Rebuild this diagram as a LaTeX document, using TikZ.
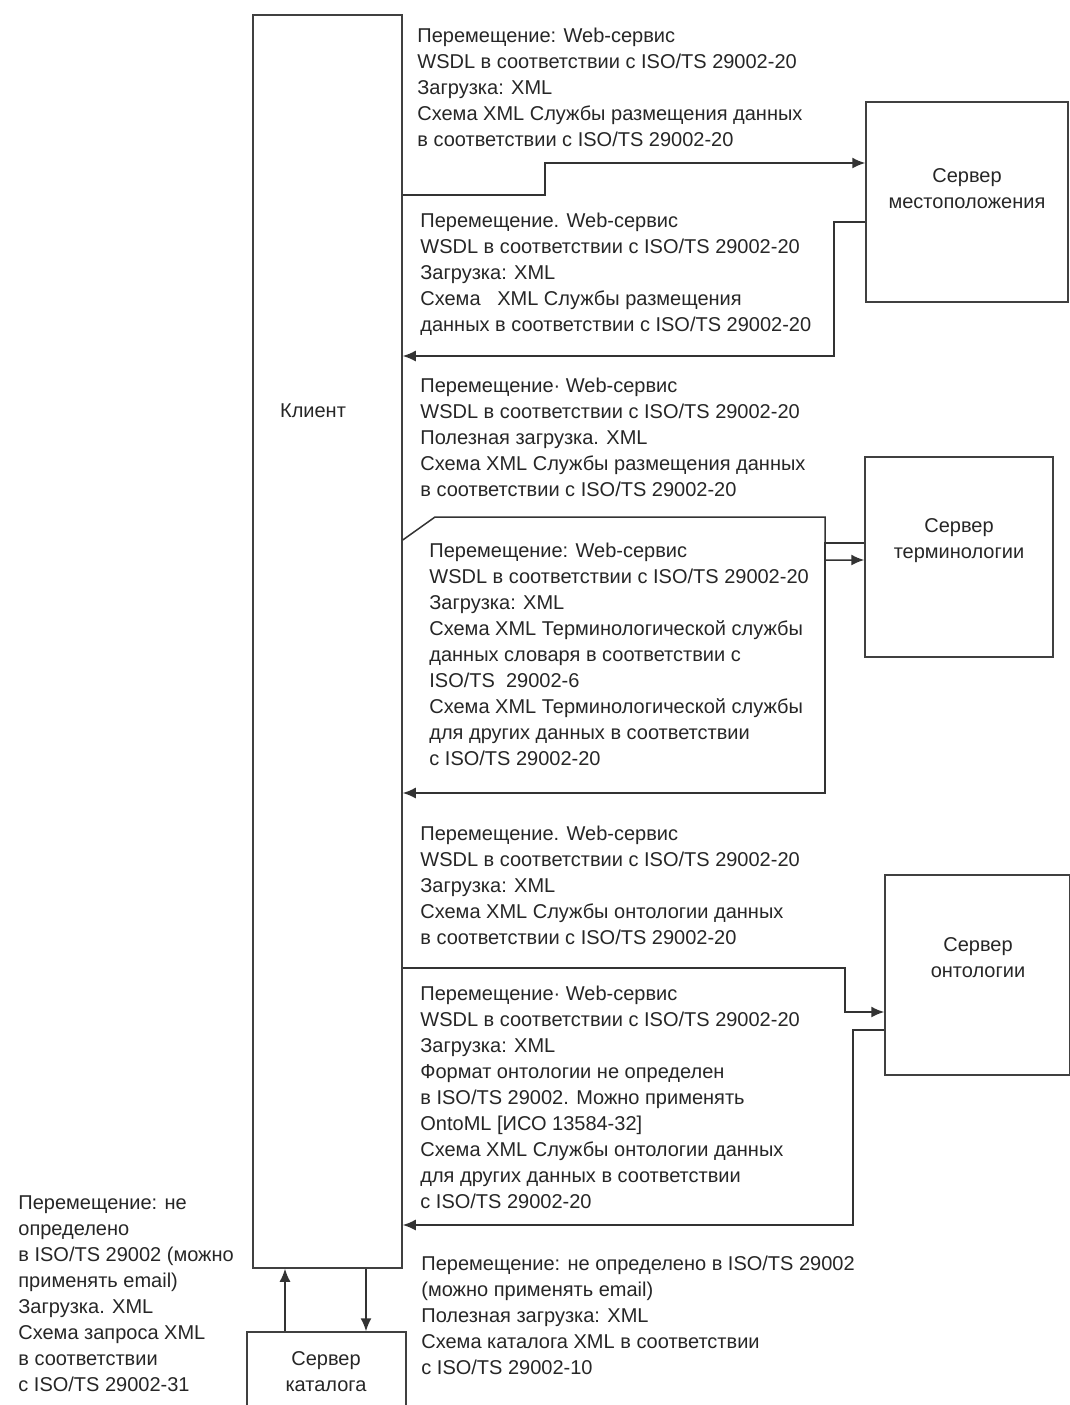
\documentclass[tikz,border=0pt]{standalone}
\usepackage{fontspec}
\setmainfont{Liberation Sans}
\usetikzlibrary{arrows.meta}

\tikzset{
  box/.style={draw=black!75, line width=0.75pt, inner sep=0pt},
  txt/.style={anchor=north west, inner sep=0pt, align=left, text=black!85,
    font=\fontsize{10}{13}\selectfont},
  lbl/.style={inner sep=0pt, align=center, text=black!85,
    font=\fontsize{10}{13}\selectfont},
  conn/.style={draw=black!80, line width=0.75pt, -{Latex[length=6.5pt,width=5.5pt]}},
  plain/.style={draw=black!80, line width=0.75pt}
}

\begin{document}
\begin{tikzpicture}[x=0.5pt,y=0.5pt,yscale=-1,xscale=1]
\path[use as bounding box] (0,0) rectangle (1070,1405);

%Boxes
\node[box, minimum width=74.5pt, minimum height=626.5pt] (client) at (327.5,641.5) {};
\node[box, minimum width=101pt, minimum height=100pt] (loc) at (967,202) {};
\node[box, minimum width=94pt, minimum height=100pt] (term) at (959,557) {};
\node[box, minimum width=92.5pt, minimum height=100pt] (onto) at (977.5,975) {};
\node[box, minimum width=79.5pt, minimum height=40pt] (cat) at (326.5,1372) {};

% Box labels
\node[lbl] (clientlbl) at (313,411) {Клиент};
\node[lbl] (loclbl) at (967,189) {Сервер\\местоположения};
\node[lbl] (termlbl) at (959,541) {Сервер\\терминологии};
\node[lbl] (ontolbl) at (978,958) {Сервер\\онтологии};
\node[lbl] (catlbl) at (326,1372) {Сервер\\каталога};

%Straight Lines: client - location server
\draw[conn] (client.east |- 0,195) -| (545,163) -- (loc.west |- 0,163);
\draw[conn] (loc.west |- 0,222) -| (834,356) -- (client.east |- 0,356);

%Straight Lines: client - terminology server
\draw[conn] (client.east |- 0,540) -- (435,517) -| (825,560) -- (term.west |- 0,560);
\draw[conn] (term.west |- 0,543) -| (825,793) -- (client.east |- 0,793);

%Straight Lines: client - ontology server
\draw[conn] (client.east |- 0,968) -| (845,1012) -- (onto.west |- 0,1012);
\draw[conn] (onto.west |- 0,1030) -| (853,1225) -- (client.east |- 0,1225);

%Straight Lines: client - catalog server
\draw[conn] (cat.north -| 285,0) -- (client.south -| 285,0);
\draw[conn] (client.south -| 366,0) -- (cat.north -| 366,0);

% Text Node
\node[txt] (msgloc) at (417,28) {Перемещение: Web-сервис\\
WSDL в соответствии с ISO/TS 29002-20\\
Загрузка: XML\\
Схема XML Службы размещения данных\\
в соответствии с ISO/TS 29002-20};
% Text Node
\node[txt] (resloc) at (420,213) {Перемещение. Web-сервис\\
WSDL в соответствии с ISO/TS 29002-20\\
Загрузка: XML\\
Схема\ \ \ XML Службы размещения\\
данных в соответствии с ISO/TS 29002-20};
% Text Node
\node[txt] (msgterm) at (420,378) {Перемещение· Web-сервис\\
WSDL в соответствии с ISO/TS 29002-20\\
Полезная загрузка. XML\\
Схема XML Службы размещения данных\\
в соответствии с ISO/TS 29002-20};
% Text Node
\node[txt] (resterm) at (429,543) {Перемещение: Web-сервис\\
WSDL в соответствии с ISO/TS 29002-20\\
Загрузка: XML\\
Схема XML Терминологической службы\\
данных словаря в соответствии с\\
ISO/TS\ \ 29002-6\\
Схема XML Терминологической службы\\
для других данных в соответствии\\
с ISO/TS 29002-20};
% Text Node
\node[txt] (msgonto) at (420,826) {Перемещение. Web-сервис\\
WSDL в соответствии с ISO/TS 29002-20\\
Загрузка: XML\\
Схема XML Службы онтологии данных\\
в соответствии с ISO/TS 29002-20};
% Text Node
\node[txt] (resonto) at (420,986) {Перемещение· Web-сервис\\
WSDL в соответствии с ISO/TS 29002-20\\
Загрузка: XML\\
Формат онтологии не определен\\
в ISO/TS 29002. Можно применять\\
OntoML [ИСО 13584-32]\\
Схема XML Службы онтологии данных\\
для других данных в соответствии\\
с ISO/TS 29002-20};
% Text Node
\node[txt] (rescat) at (421,1256) {Перемещение: не определено в ISO/TS 29002\\
(можно применять email)\\
Полезная загрузка: XML\\
Схема каталога XML в соответствии\\
с ISO/TS 29002-10};
% Text Node
\node[txt] (msgcat) at (18,1195) {Перемещение: не\\
определено\\
в ISO/TS 29002 (можно\\
применять email)\\
Загрузка. XML\\
Схема запроса XML\\
в соответствии\\
с ISO/TS 29002-31};

\end{tikzpicture}
\end{document}
